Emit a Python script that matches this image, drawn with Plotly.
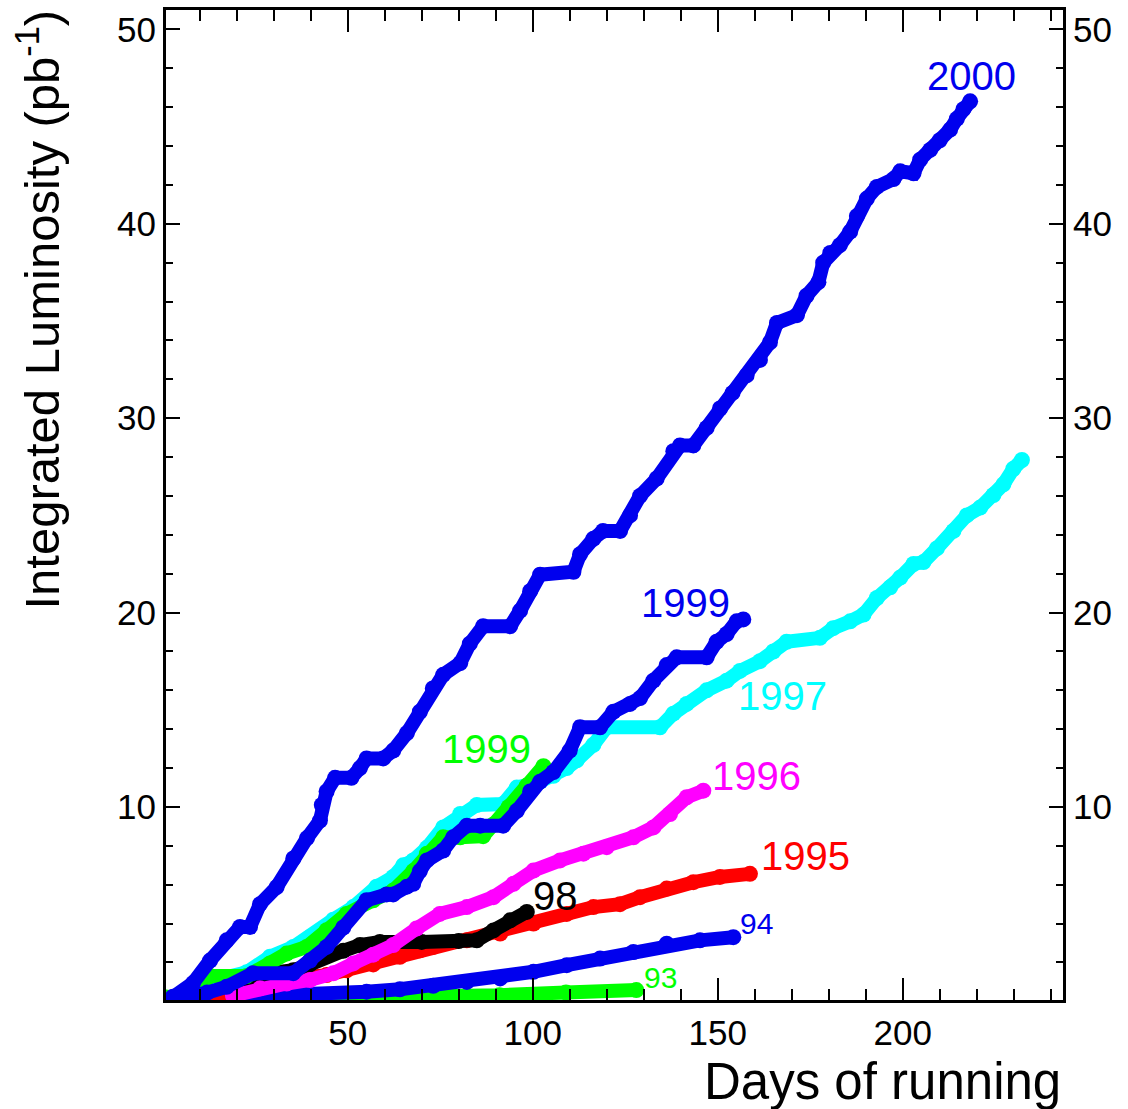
import plotly.graph_objects as go

# ---------------- data (days of running, integrated luminosity pb^-1) ----------------
days_2000 = [1.5, 2.8, 8.2, 12.8, 17.3, 20.9, 23.6, 26.3, 30.8, 35.3, 39.0, 42.5, 43.0, 44.3, 46.6, 51.0, 53.3, 55.1,
             59.6, 62.3, 66.0, 69.5, 73.0, 75.8, 80.4, 83.0, 86.6, 93.9, 96.6, 99.3, 102.0, 111.0, 112.8, 116.4,
             119.0, 123.6, 126.3, 129.0, 133.5, 138.0, 139.8, 143.4, 147.0, 150.6, 154.0, 157.8, 161.4, 164.1,
             166.0, 171.4, 174.0, 177.2, 178.5, 180.4, 183.0, 185.8, 187.6, 190.3, 193.0, 197.5, 199.3, 202.9,
             204.7, 207.4, 210.0, 212.8, 214.6, 216.4, 218.2]
lumi_2000 = [0.05, 0.24, 0.94, 2.1, 3.14, 3.83, 3.83, 5.0, 5.88, 7.35, 8.4, 9.3, 10.1, 10.8, 11.5, 11.5, 12.0, 12.5,
             12.5, 12.9, 13.8, 14.9, 16.1, 16.8, 17.4, 18.4, 19.3, 19.3, 20.1, 21.1, 21.95, 22.1, 23.0, 23.8,
             24.2, 24.2, 25.0, 26.0, 26.9, 28.3, 28.6, 28.6, 29.5, 30.5, 31.3, 32.2, 33.0, 33.9,
             34.9, 35.3, 36.3, 37.0, 38.0, 38.5, 38.9, 39.6, 40.4, 41.3, 41.9, 42.3, 42.7, 42.6,
             43.3, 43.8, 44.3, 44.85, 45.4, 45.9, 46.3]

days_1999b = [2, 8, 12, 17.3, 24.4, 35.3, 39.8, 44.3, 48.8, 55.1, 60.5, 62.3, 66.0, 67.7, 69.5, 71.4, 75.8, 78.5,
              82.2, 85.8, 92.0, 95.7, 99.3, 102.0, 105.6, 110.0, 112.8, 118.2, 121.8, 126.3, 129.0, 132.6, 136.2,
              138.9, 147.0, 149.7, 152.4, 155.1, 156.9]
lumi_1999b = [0.05, 0.2, 0.45, 0.75, 1.45, 1.45, 2.1, 2.8, 3.8, 5.2, 5.5, 5.5, 5.9, 6.05, 6.7, 7.25, 7.76, 8.44,
              9.04, 9.04, 9.04, 9.8, 10.8, 11.3, 11.8, 12.9, 14.1, 14.1, 14.9, 15.3, 15.6, 16.5, 17.3,
              17.7, 17.7, 18.5, 18.9, 19.55, 19.65]

days_1997 = [4, 10, 14, 22.7, 29, 35.3, 39.8, 46.1, 51.5, 57.8, 62.3, 65, 67.7, 71.4, 75.8, 80.4, 84.9, 92, 95.7,
             102, 105.6, 109.2, 111.9, 116.4, 120, 134.4, 138, 141.6, 147, 152.4, 156, 161.4, 165, 168.6, 177.6,
             181.2, 185.8, 189.4, 193, 196.6, 199.3, 202.9, 205.6, 209.2, 213.7, 217.3, 220.9, 224.5, 227.2,
             229.9, 232.2]
lumi_1997 = [0.1, 0.6, 1.1, 1.5, 2.3, 2.8, 3.3, 4.2, 4.85, 5.9, 6.4, 7.0, 7.25, 7.9, 8.95, 9.64, 10.1, 10.15, 11.0,
             11.3, 11.6, 12.0, 12.4, 13.2, 14.1, 14.1, 14.8, 15.3, 16.0, 16.5, 17.0, 17.5, 18.0, 18.5, 18.7,
             19.2, 19.55, 19.9, 20.75, 21.3, 21.8, 22.5, 22.6, 23.3, 24.2, 25.0, 25.4, 26.05, 26.6,
             27.4, 27.85]

days_1999g = [1, 5, 9.2, 12.8, 22.7, 29, 33.5, 38.9, 44.3, 49.7, 56.9, 62.3, 67.7, 71.4, 75.8, 80.4, 86.6, 89.4,
              93.5, 98.4, 102.9]
lumi_1999g = [0.2, 0.3, 0.6, 1.3, 1.3, 1.95, 2.46, 2.8, 3.66, 4.5, 5.2, 5.7, 6.7, 7.6, 8.44, 8.44, 8.5, 9.1,
              10.0, 11.1, 12.1]

days_1998 = [10, 11.9, 17.3, 24.5, 29, 35.3, 39.8, 44.3, 48.8, 53.3, 58.7, 70, 80, 84.9, 89.4, 93.9, 98.4]
lumi_1998 = [0.3, 0.75, 1.0, 1.1, 1.45, 1.6, 1.9, 2.35, 2.6, 2.9, 3.06, 3.06, 3.1, 3.14, 3.65, 4.17, 4.6]

days_1996 = [19, 26.3, 33.5, 39.8, 46.1, 51.5, 56.9, 62.3, 68.6, 74.9, 82.2, 89.4, 94.8, 100.2, 107.4, 113.7, 120,
             127.2, 132.6, 137.1, 141.6, 146.1]
lumi_1996 = [0.3, 0.67, 0.92, 1.1, 1.44, 1.95, 2.4, 2.9, 3.75, 4.5, 4.85, 5.36, 6.05, 6.73, 7.25, 7.6, 7.93,
             8.44, 8.95, 9.64, 10.5, 10.84]

days_1995 = [14, 20, 29, 37, 44.3, 49.7, 56.9, 64.1, 69.5, 73.1, 82.2, 91.2, 100.2, 109.2, 116.4, 123.6, 129,
             136.2, 143.4, 150.6, 158.7]
lumi_1995 = [0.2, 0.5, 0.92, 1.22, 1.35, 1.6, 1.9, 2.29, 2.63, 2.8, 3.14, 3.49, 4.0, 4.5, 4.85, 5.0, 5.36,
             5.8, 6.13, 6.4, 6.56]

days_1994 = [1, 10, 26, 37.1, 55.1, 64.1, 73.1, 82.2, 91.2, 100.2, 109.2, 118.2, 127.2, 136.2, 145.2, 154.2]
lumi_1994 = [0.1, 0.15, 0.22, 0.33, 0.5, 0.62, 0.8, 1.0, 1.18, 1.52, 1.86, 2.2, 2.54, 2.97, 3.14, 3.3]

days_1993 = [1, 40, 73, 91, 109, 128]
lumi_1993 = [0.05, 0.1, 0.2, 0.32, 0.46, 0.58]

# curve labels: text, position (days, lumi), colour, font size
label_text = ["2000", "1999", "1997", "1999", "1996", "1995", "98", "94", "93"]
label_x = [218.5, 141.4, 167.4, 87.6, 160.6, 173.6, 106.1, 160.6, 134.4]
label_y = [47.6, 20.5, 15.7, 13.0, 11.6, 7.5, 5.4, 4.0, 1.25]
label_color = ["#0000ee", "#0000ee", "#00ffff", "#00ff00", "#ff00ff", "#ff0000", "#000000", "#0000ee", "#00ff00"]
label_size = [40, 40, 40, 40, 40, 40, 40, 30, 30]

x_title = "Days of running"
y_title = "Integrated Luminosity (pb<sup>-1</sup>)"

BLUE = "#0000ee"
# draw order: bottom -> top
series = [
    (days_1993, lumi_1993, "#00ff00", "y"),
    (days_1994, lumi_1994, BLUE, "y"),
    (days_1995, lumi_1995, "#ff0000", "y"),
    (days_1998, lumi_1998, "#000000", "y"),
    (days_1996, lumi_1996, "#ff00ff", "y"),
    (days_1997, lumi_1997, "#00ffff", "y"),
    (days_1999g, lumi_1999g, "#00ff00", "y"),
    (days_1999b, lumi_1999b, BLUE, "y"),
    (days_2000, lumi_2000, BLUE, "y2"),
]

FONT = "Liberation Sans, Arial, Helvetica, sans-serif"

fig = go.Figure()
for xs, ys, col, yax in series:
    fig.add_trace(go.Scatter(
        x=xs, y=ys, mode="lines+markers", yaxis=yax,
        line=dict(color=col, width=14, shape="linear"),
        marker=dict(color=col, size=16, line=dict(width=0)),
        showlegend=False, hoverinfo="skip",
    ))

for t, x, y, c, s in zip(label_text, label_x, label_y, label_color, label_size):
    fig.add_annotation(x=x, y=y, xref="x", yref="y", text=t, showarrow=False,
                       font=dict(family=FONT, size=s, color=c), xanchor="center", yanchor="middle")

fig.add_annotation(x=1.0, xref="paper", y=-0.0826, yref="paper", text=x_title, showarrow=False,
                   xanchor="right", yanchor="middle", font=dict(family=FONT, size=51, color="black"))
fig.add_annotation(x=-0.142, xref="paper", y=0.697, yref="paper", text=y_title, showarrow=False,
                   textangle=-90, xanchor="center", yanchor="middle",
                   font=dict(family=FONT, size=49, color="black"))

yrange = [0.07, 51.0]
common_y = dict(range=yrange, tick0=0, dtick=10, ticks="inside", ticklen=14, tickwidth=2, tickcolor="black",
                showline=True, linewidth=3, linecolor="black", showgrid=False, zeroline=False,
                tickfont=dict(family=FONT, size=35, color="black"),
                minor=dict(dtick=2, tick0=0, ticks="inside", ticklen=7, tickwidth=2, tickcolor="black",
                           showgrid=False))

fig.update_layout(
    width=1128, height=1109,
    margin=dict(l=166, r=65, t=7, b=109),
    paper_bgcolor="white", plot_bgcolor="white",
    xaxis=dict(range=[0.9, 243.3], tick0=0, dtick=50, ticks="inside", ticklen=22, tickwidth=2,
               tickcolor="black", showline=True, linewidth=3, linecolor="black", mirror="ticks",
               showgrid=False, zeroline=False,
               tickfont=dict(family=FONT, size=35, color="black"),
               minor=dict(dtick=10, tick0=0, ticks="inside", ticklen=11, tickwidth=2, tickcolor="black",
                          showgrid=False)),
    yaxis=dict(side="left", **common_y),
    yaxis2=dict(side="right", overlaying="y", **common_y),
)

fig.write_html("out.html")
